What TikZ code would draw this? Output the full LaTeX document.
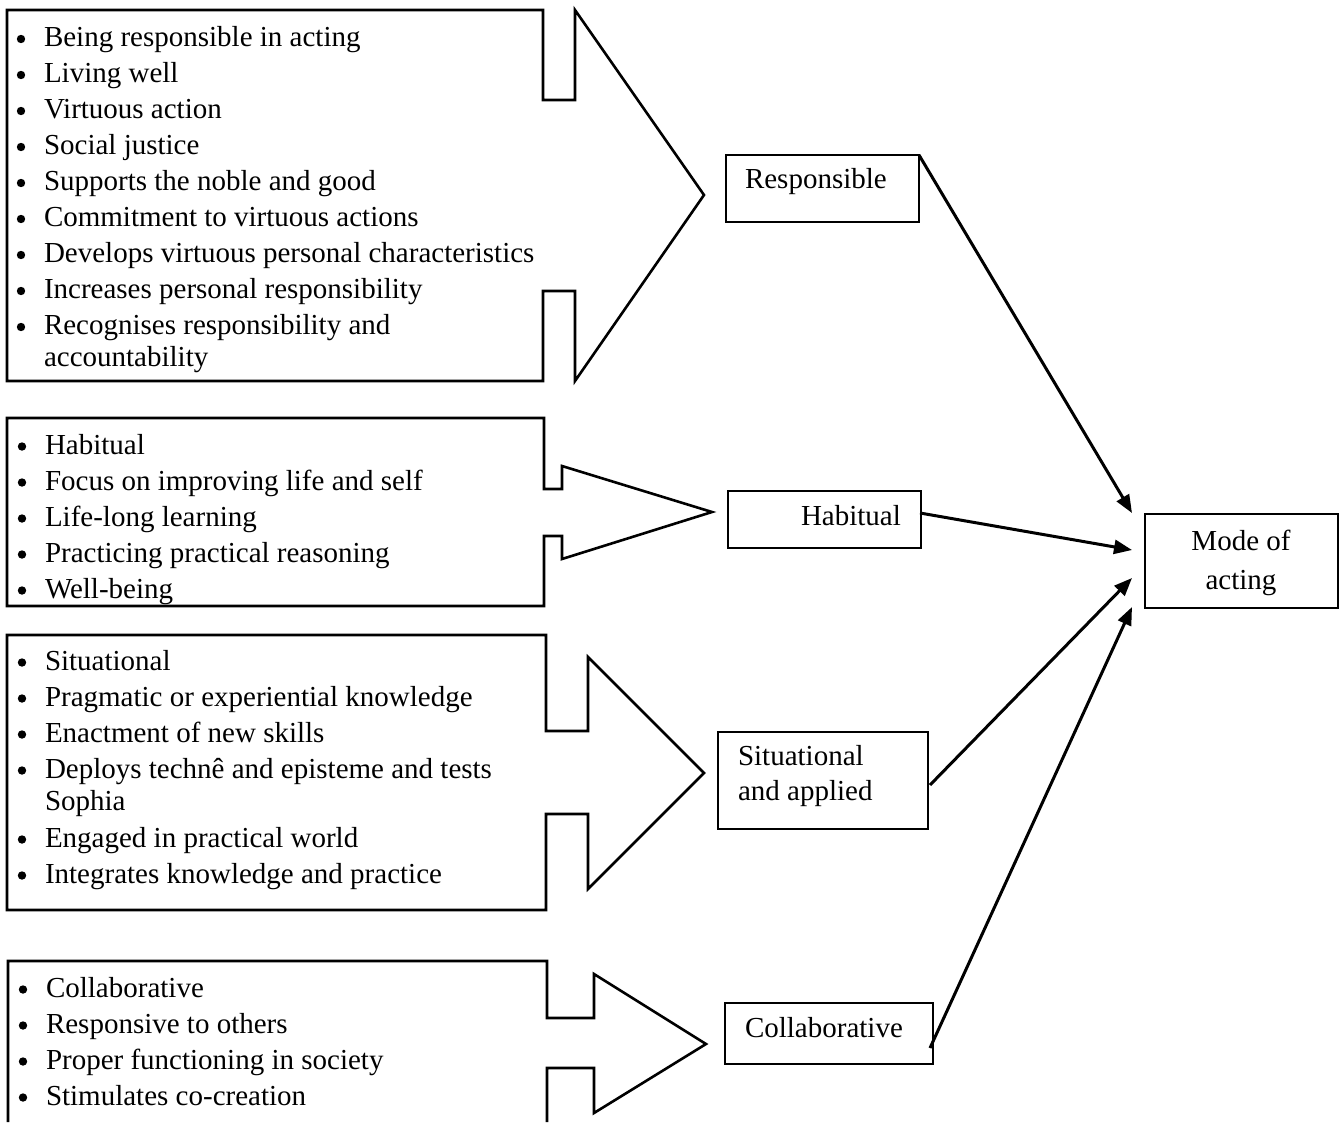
\documentclass[tikz,border=0pt]{standalone}
\usepackage{fontspec}
\setmainfont{Liberation Serif}
\usetikzlibrary{arrows.meta,calc}
\begin{document}
\begin{tikzpicture}[x=1pt,y=-1pt,
  every node/.style={font=\fontsize{29}{36}\selectfont, inner sep=0pt, outer sep=0pt},
  itm/.style={anchor=base west},
  dot/.style={fill=black},
  callout/.style={draw, line width=2.6pt, line join=miter},
  box/.style={draw, line width=2pt, rectangle, inner sep=0pt},
  link/.style={line width=3pt, -{Triangle[length=18pt,width=14pt]}}]
\useasboundingbox (0,0) rectangle (1343,1122);

% bulleted line (dot centre x, baseline y) and continuation line
\newcommand{\bul}[4]{%
  \fill[dot] (#2,#3-7.5) circle (4.2);
  \node[itm] (#1) at (#2+23,#3) {#4};}
\newcommand{\cont}[4]{\node[itm] (#1) at (#2,#3) {#4};}

% ---- callout 1 ----
\draw[callout] (7,10) -- (543,10) -- (543,100) -- (575,100) -- (575,10)
  -- (704,195) -- (575,381) -- (575,291) -- (543,291) -- (543,381)
  -- (7,381) -- cycle;
\bul{a1}{21}{46.5}{Being responsible in acting}
\bul{a2}{21}{82.5}{Living well}
\bul{a3}{21}{118.5}{Virtuous action}
\bul{a4}{21}{154.5}{Social justice}
\bul{a5}{21}{190.5}{Supports the noble and good}
\bul{a6}{21}{226.5}{Commitment to virtuous actions}
\bul{a7}{21}{262.5}{Develops virtuous personal characteristics}
\bul{a8}{21}{298.5}{Increases personal responsibility}
\bul{a9}{21}{334.5}{Recognises responsibility and}
\cont{a10}{44}{366}{accountability}

% ---- callout 2 ----
\draw[callout] (7,418) -- (544,418) -- (544,489) -- (562,489) -- (562,466)
  -- (712,512) -- (562,559) -- (562,536) -- (544,536) -- (544,606)
  -- (7,606) -- cycle;
\bul{b1}{22}{454}{Habitual}
\bul{b2}{22}{490}{Focus on improving life and self}
\bul{b3}{22}{526}{Life-long learning}
\bul{b4}{22}{562}{Practicing practical reasoning}
\bul{b5}{22}{598}{Well-being}

% ---- callout 3 ----
\draw[callout] (7,635) -- (546,635) -- (546,731) -- (588,731) -- (588,657)
  -- (704,773) -- (588,889) -- (588,814) -- (546,814) -- (546,910)
  -- (7,910) -- cycle;
\bul{c1}{22}{670}{Situational}
\bul{c2}{22}{706}{Pragmatic or experiential knowledge}
\bul{c3}{22}{742}{Enactment of new skills}
\bul{c4}{22}{778}{Deploys technê and episteme and tests}
\cont{c5}{45}{810}{Sophia}
\bul{c6}{22}{847}{Engaged in practical world}
\bul{c7}{22}{883}{Integrates knowledge and practice}

% ---- callout 4 (runs past the lower edge) ----
\draw[callout] (547,1122) -- (547,1068) -- (594,1068) -- (594,1113)
  -- (706,1044) -- (594,974) -- (594,1018) -- (547,1018) -- (547,961)
  -- (8,961) -- (8,1122);
\bul{d1}{23}{997}{Collaborative}
\bul{d2}{23}{1033}{Responsive to others}
\bul{d3}{23}{1069}{Proper functioning in society}
\bul{d4}{23}{1105}{Stimulates co-creation}

% ---- category boxes ----
\node[box, minimum width=193pt, minimum height=67pt] (resp) at (822.5,188.5) {};
\node[itm] (respl) at (745,188) {Responsible};

\node[box, minimum width=193pt, minimum height=57pt] (hab) at (824.5,519.5) {};
\node[itm] (habl) at (801,525) {Habitual};

\node[box, minimum width=210pt, minimum height=97pt] (sit) at (823,780.5) {};
\node[itm] (sitl1) at (738,765) {Situational};
\node[itm] (sitl2) at (738,800) {and applied};

\node[box, minimum width=208pt, minimum height=61pt] (col) at (829,1033.5) {};
\node[itm] (coll) at (745,1037) {Collaborative};

\node[box, minimum width=193pt, minimum height=94pt] (mode) at (1241.5,561) {};
\node[anchor=base] (model1) at (1241,550) {Mode of};
\node[anchor=base] (model2) at (1241,589) {acting};

% ---- connectors ----
\draw[link] (resp.north east) -- ($(mode.north west)+(-13,-1)$);
\draw[link] ($(hab.east)+(-1,-6.5)$) -- ($(mode.north west)+(-13,36)$);
\draw[link] ($(sit.east)+(2,4.5)$) -- ($(mode.north west)+(-13,64)$);
\draw[link] ($(col.east)+(-3,14.5)$) -- ($(mode.south west)+(-13,-1)$);
\end{tikzpicture}
\end{document}
